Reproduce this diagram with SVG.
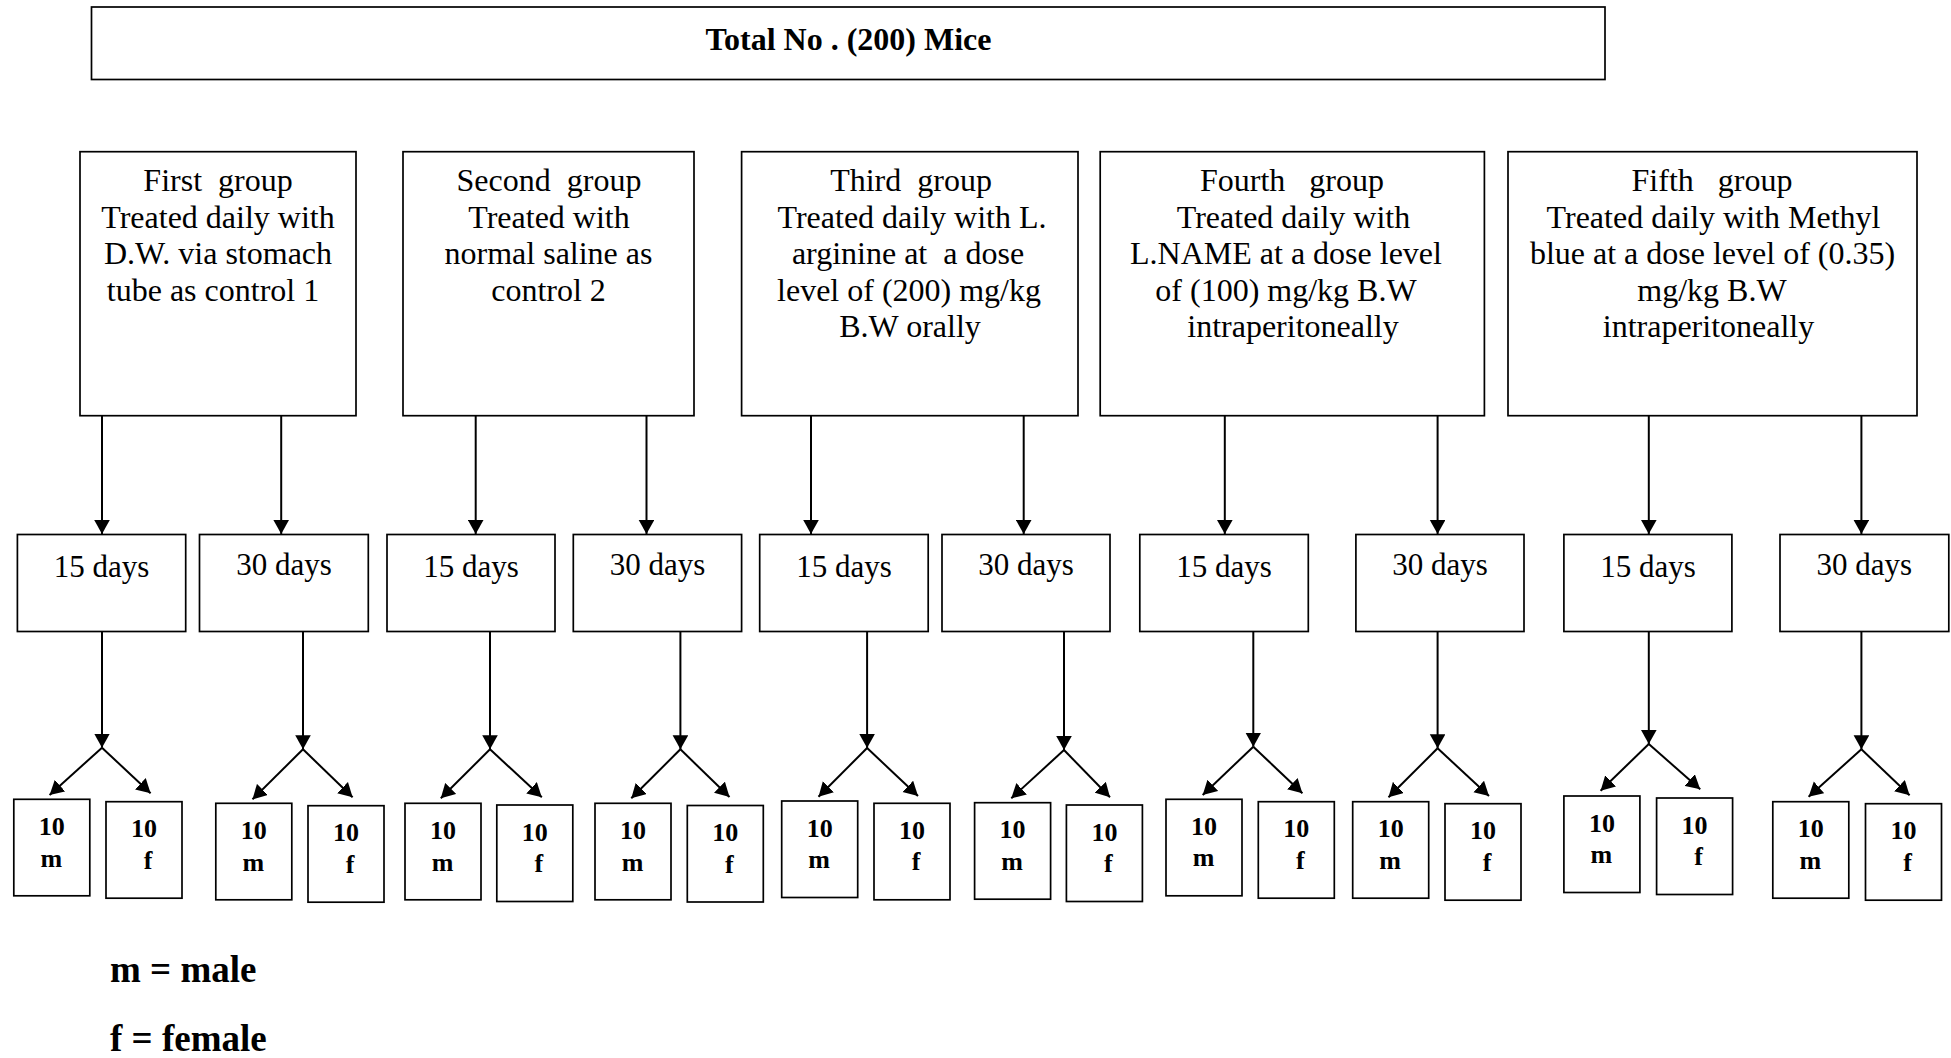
<svg xmlns="http://www.w3.org/2000/svg" width="1951" height="1058" viewBox="0 0 1951 1058">
<style>
.bx{fill:#fff;stroke:#000;stroke-width:1.7}
.t{font-family:"Liberation Serif","Times New Roman",serif;font-size:32px;fill:#000;text-anchor:middle;white-space:pre}
.d{font-family:"Liberation Serif","Times New Roman",serif;font-size:31px;fill:#000;text-anchor:middle}
.b{font-family:"Liberation Serif","Times New Roman",serif;font-size:26px;font-weight:bold;fill:#000;text-anchor:middle}
.h{font-family:"Liberation Serif","Times New Roman",serif;font-size:32px;font-weight:bold;fill:#000;text-anchor:middle}
.lg{font-family:"Liberation Serif","Times New Roman",serif;font-size:37px;font-weight:bold;fill:#000}
.c line{stroke:#000;stroke-width:2;marker-end:url(#ah)}
</style>
<defs>
<marker id="ah" markerUnits="userSpaceOnUse" markerWidth="15" markerHeight="16" refX="14" refY="7.8" orient="auto" viewBox="0 0 15 16">
<path d="M0,0 L14,7.8 L0,15.6 z" fill="#000"/>
</marker>
</defs>
<rect width="1951" height="1058" fill="#fff"/>

<g id="total">
<rect class="bx" x="91.5" y="7" width="1513.5" height="72.5"/>
<text class="h" x="848.5" y="50">Total No . (200) Mice</text>
</g>

<g id="group1">
<rect class="bx" x="80" y="151.7" width="276" height="264"/>
<text class="t" x="218" y="190.5" xml:space="preserve">First  group</text>
<text class="t" x="218" y="227.5">Treated daily with</text>
<text class="t" x="218" y="264">D.W. via stomach</text>
<text class="t" x="213" y="300.5">tube as control 1</text>
</g>
<g id="group2">
<rect class="bx" x="403" y="151.7" width="291" height="264"/>
<text class="t" x="549" y="190.5" xml:space="preserve">Second  group</text>
<text class="t" x="549" y="227.5">Treated with</text>
<text class="t" x="548.5" y="264">normal saline as</text>
<text class="t" x="548.5" y="300.5">control 2</text>
</g>
<g id="group3">
<rect class="bx" x="741.6" y="151.7" width="336.4" height="264"/>
<text class="t" x="911" y="190.5" xml:space="preserve">Third  group</text>
<text class="t" x="912" y="227.5">Treated daily with L.</text>
<text class="t" x="908" y="264" xml:space="preserve">arginine at  a dose</text>
<text class="t" x="909" y="300.5">level of (200) mg/kg</text>
<text class="t" x="910" y="337">B.W orally</text>
</g>
<g id="group4">
<rect class="bx" x="1100.2" y="151.7" width="384.2" height="264"/>
<text class="t" x="1292" y="190.5" xml:space="preserve">Fourth   group</text>
<text class="t" x="1293.5" y="227.5">Treated daily with</text>
<text class="t" x="1286" y="264">L.NAME at a dose level</text>
<text class="t" x="1286" y="300.5">of (100) mg/kg B.W</text>
<text class="t" x="1293" y="337">intraperitoneally</text>
</g>
<g id="group5">
<rect class="bx" x="1508" y="151.7" width="409" height="264"/>
<text class="t" x="1712" y="190.5" xml:space="preserve">Fifth   group</text>
<text class="t" x="1713.5" y="227.5">Treated daily with Methyl</text>
<text class="t" x="1712.5" y="264">blue at a dose level of (0.35)</text>
<text class="t" x="1712" y="300.5">mg/kg B.W</text>
<text class="t" x="1708.5" y="337">intraperitoneally</text>
</g>

<g id="days1"><rect class="bx" x="17.4" y="534.5" width="168.3" height="97"/><text class="d" x="101.5" y="577">15 days</text></g>
<g id="days2"><rect class="bx" x="199.5" y="534.5" width="168.8" height="97"/><text class="d" x="284" y="575">30 days</text></g>
<g id="days3"><rect class="bx" x="387" y="534.5" width="168" height="97"/><text class="d" x="471" y="577">15 days</text></g>
<g id="days4"><rect class="bx" x="573.3" y="534.5" width="168.3" height="97"/><text class="d" x="657.5" y="575">30 days</text></g>
<g id="days5"><rect class="bx" x="759.7" y="534.5" width="168.5" height="97"/><text class="d" x="844" y="577">15 days</text></g>
<g id="days6"><rect class="bx" x="942" y="534.5" width="168" height="97"/><text class="d" x="1026" y="575">30 days</text></g>
<g id="days7"><rect class="bx" x="1139.8" y="534.5" width="168.5" height="97"/><text class="d" x="1224" y="577">15 days</text></g>
<g id="days8"><rect class="bx" x="1355.9" y="534.5" width="168.1" height="97"/><text class="d" x="1440" y="575">30 days</text></g>
<g id="days9"><rect class="bx" x="1563.9" y="534.5" width="168" height="97"/><text class="d" x="1648" y="577">15 days</text></g>
<g id="days10"><rect class="bx" x="1780" y="534.5" width="168.8" height="97"/><text class="d" x="1864.4" y="575">30 days</text></g>

<g id="m1"><rect class="bx" x="13.8" y="799.3" width="76" height="96.5"/><text class="b" x="51.8" y="835">10</text><text class="b" x="51.3" y="866.5">m</text></g>
<g id="f1"><rect class="bx" x="106" y="801.7" width="76" height="96.5"/><text class="b" x="144" y="837.2">10</text><text class="b" x="148" y="868.7">f</text></g>
<g id="m2"><rect class="bx" x="215.8" y="803.3" width="76" height="96.5"/><text class="b" x="253.8" y="839">10</text><text class="b" x="253.3" y="870.5">m</text></g>
<g id="f2"><rect class="bx" x="308" y="805.7" width="76" height="96.5"/><text class="b" x="346" y="841.2">10</text><text class="b" x="350" y="872.7">f</text></g>
<g id="m3"><rect class="bx" x="405" y="803.3" width="76" height="96.5"/><text class="b" x="443" y="839">10</text><text class="b" x="442.5" y="870.5">m</text></g>
<g id="f3"><rect class="bx" x="496.8" y="805" width="76" height="96.5"/><text class="b" x="534.8" y="840.5">10</text><text class="b" x="538.8" y="872">f</text></g>
<g id="m4"><rect class="bx" x="595" y="803.3" width="76" height="96.5"/><text class="b" x="633" y="839">10</text><text class="b" x="632.5" y="870.5">m</text></g>
<g id="f4"><rect class="bx" x="687.3" y="805.5" width="76" height="96.5"/><text class="b" x="725.3" y="841">10</text><text class="b" x="729.3" y="872.5">f</text></g>
<g id="m5"><rect class="bx" x="781.7" y="801" width="76" height="96.5"/><text class="b" x="819.7" y="836.5">10</text><text class="b" x="819.2" y="868">m</text></g>
<g id="f5"><rect class="bx" x="874" y="803.3" width="76" height="96.5"/><text class="b" x="912" y="838.8">10</text><text class="b" x="916" y="870.3">f</text></g>
<g id="m6"><rect class="bx" x="974.6" y="802.7" width="76" height="96.5"/><text class="b" x="1012.6" y="838.2">10</text><text class="b" x="1012.1" y="869.7">m</text></g>
<g id="f6"><rect class="bx" x="1066.4" y="805" width="76" height="96.5"/><text class="b" x="1104.4" y="840.5">10</text><text class="b" x="1108.4" y="872">f</text></g>
<g id="m7"><rect class="bx" x="1166" y="799.3" width="76" height="96.5"/><text class="b" x="1204" y="834.8">10</text><text class="b" x="1203.5" y="866.3">m</text></g>
<g id="f7"><rect class="bx" x="1258.3" y="801.7" width="76" height="96.5"/><text class="b" x="1296.3" y="837.2">10</text><text class="b" x="1300.3" y="868.7">f</text></g>
<g id="m8"><rect class="bx" x="1352.7" y="801.7" width="76" height="96.5"/><text class="b" x="1390.7" y="837.2">10</text><text class="b" x="1390.2" y="868.7">m</text></g>
<g id="f8"><rect class="bx" x="1445" y="803.7" width="76" height="96.5"/><text class="b" x="1483" y="839.2">10</text><text class="b" x="1487" y="870.7">f</text></g>
<g id="m9"><rect class="bx" x="1563.9" y="796" width="76" height="96.5"/><text class="b" x="1601.9" y="831.5">10</text><text class="b" x="1601.4" y="863">m</text></g>
<g id="f9"><rect class="bx" x="1656.6" y="798" width="76" height="96.5"/><text class="b" x="1694.6" y="833.5">10</text><text class="b" x="1698.6" y="865">f</text></g>
<g id="m10"><rect class="bx" x="1772.8" y="801.7" width="76" height="96.5"/><text class="b" x="1810.8" y="837.2">10</text><text class="b" x="1810.3" y="868.7">m</text></g>
<g id="f10"><rect class="bx" x="1865.5" y="803.7" width="76" height="96.5"/><text class="b" x="1903.5" y="839.2">10</text><text class="b" x="1907.5" y="870.7">f</text></g>

<g id="connectors" class="c">
<line x1="102" y1="416" x2="102" y2="534"/>
<line x1="281.2" y1="416" x2="281.2" y2="534"/>
<line x1="475.7" y1="416" x2="475.7" y2="534"/>
<line x1="646.5" y1="416" x2="646.5" y2="534"/>
<line x1="811" y1="416" x2="811" y2="534"/>
<line x1="1023.7" y1="416" x2="1023.7" y2="534"/>
<line x1="1224.8" y1="416" x2="1224.8" y2="534"/>
<line x1="1437.6" y1="416" x2="1437.6" y2="534"/>
<line x1="1648.8" y1="416" x2="1648.8" y2="534"/>
<line x1="1861.4" y1="416" x2="1861.4" y2="534"/>

<line x1="102" y1="632" x2="102" y2="747.7"/>
<line x1="303" y1="632" x2="303" y2="749.3"/>
<line x1="490" y1="632" x2="490" y2="749.3"/>
<line x1="680.4" y1="632" x2="680.4" y2="749.3"/>
<line x1="867.1" y1="632" x2="867.1" y2="748"/>
<line x1="1064" y1="632" x2="1064" y2="750"/>
<line x1="1253.3" y1="632" x2="1253.3" y2="746.7"/>
<line x1="1437.6" y1="632" x2="1437.6" y2="748.3"/>
<line x1="1648.8" y1="632" x2="1648.8" y2="744"/>
<line x1="1861.4" y1="632" x2="1861.4" y2="749.3"/>

<line x1="102" y1="747.7" x2="49.6" y2="795"/>
<line x1="102" y1="747.7" x2="150.6" y2="793.3"/>
<line x1="303" y1="749.3" x2="252.5" y2="799.3"/>
<line x1="303" y1="749.3" x2="352.6" y2="797.3"/>
<line x1="490" y1="749.3" x2="440.8" y2="798.3"/>
<line x1="490" y1="749.3" x2="541.8" y2="797.3"/>
<line x1="680.4" y1="749.3" x2="631.3" y2="798.3"/>
<line x1="680.4" y1="749.3" x2="729.5" y2="797"/>
<line x1="867.1" y1="748" x2="818.5" y2="796.7"/>
<line x1="867.1" y1="748" x2="918" y2="796"/>
<line x1="1064" y1="750" x2="1011.3" y2="798.3"/>
<line x1="1064" y1="750" x2="1110" y2="797.3"/>
<line x1="1253.3" y1="746.7" x2="1202.7" y2="795"/>
<line x1="1253.3" y1="746.7" x2="1302.4" y2="793.3"/>
<line x1="1437.6" y1="748.3" x2="1388.5" y2="797.3"/>
<line x1="1437.6" y1="748.3" x2="1489" y2="796"/>
<line x1="1648.8" y1="744" x2="1600.6" y2="790.7"/>
<line x1="1648.8" y1="744" x2="1700.2" y2="789.3"/>
<line x1="1861.4" y1="749.3" x2="1808.6" y2="796.7"/>
<line x1="1861.4" y1="749.3" x2="1909.6" y2="795.3"/>
</g>

<g id="legend">
<text class="lg" x="110" y="981.7">m = male</text>
<text class="lg" x="110" y="1051">f = female</text>
</g>
</svg>
